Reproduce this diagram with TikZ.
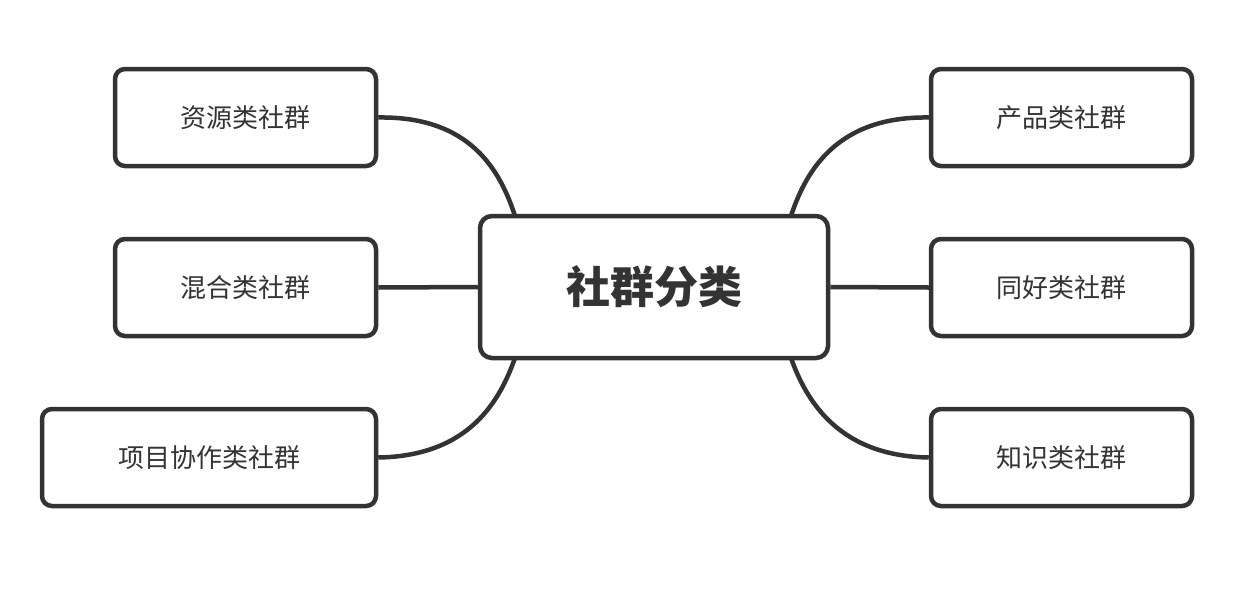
\documentclass[tikz,border=0pt]{standalone}
\usepackage{fontspec}
\newfontfamily\cjk{Noto Sans CJK SC}
\usetikzlibrary{positioning}
\definecolor{inkgray}{RGB}{51,51,51}

\begin{document}
\begin{tikzpicture}[
    x=1pt, y=-1pt,
    every node/.style={font=\cjk\fontsize{26}{30}\selectfont, text=inkgray},
    leaf/.style={rectangle, draw=inkgray, line width=4.5pt, rounded corners=10pt, minimum height=97pt, inner sep=0pt},
    hub/.style={rectangle, draw=inkgray, line width=4.5pt, rounded corners=12pt, minimum width=348pt, minimum height=142pt, font=\cjk\bfseries\fontsize{44}{50}\selectfont},
    link/.style={draw=inkgray, line width=4.5pt}
]
\useasboundingbox (0,0) rectangle (1250,592);

% Centre
\node[hub] (hub) at (654,287) {社群分类};

% Left branches
\node[leaf, minimum width=261pt] (res) at (245.5,117.5) {资源类社群};
\node[leaf, minimum width=261pt] (mix) at (245.5,287.5) {混合类社群};
\node[leaf, minimum width=334pt] (proj) at (209,457.5) {项目协作类社群};

% Right branches
\node[leaf, minimum width=261pt] (prod) at (1061.5,117.5) {产品类社群};
\node[leaf, minimum width=261pt] (hobby) at (1061.5,287.5) {同好类社群};
\node[leaf, minimum width=261pt] (know) at (1061.5,457.5) {知识类社群};

% Attachment points on the centre box
\coordinate (hubtl) at (515,216);
\coordinate (hubbl) at (515,358);
\coordinate (hubtr) at (791,216);
\coordinate (hubbr) at (791,358);

% Connectors
\draw[link] (res.east) .. controls (470,116) and (500,170) .. (hubtl);
\draw[link] (mix.east) -- (hub.west);
\draw[link] (proj.east) .. controls (470,456) and (500,400) .. (hubbl);
\draw[link] (prod.west) .. controls (838,116) and (806,170) .. (hubtr);
\draw[link] (hobby.west) -- (hub.east);
\draw[link] (know.west) .. controls (838,456) and (806,400) .. (hubbr);

\end{tikzpicture}
\end{document}
